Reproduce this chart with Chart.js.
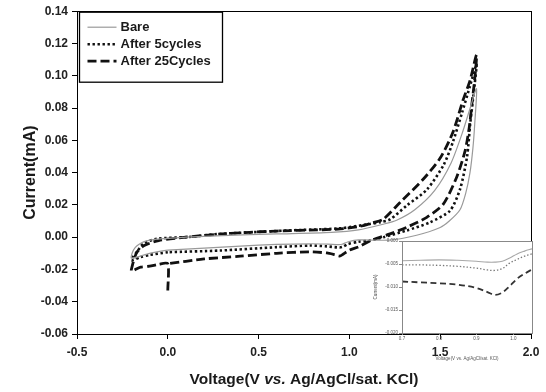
<!DOCTYPE html>
<html><head><meta charset="utf-8">
<script src="https://cdn.jsdelivr.net/npm/chart.js@4.4.1/dist/chart.umd.min.js"></script>
<style>
html,body{margin:0;padding:0;background:#fff;}
#wrap{position:relative;width:546px;height:392px;overflow:hidden;}
#main{position:absolute;left:0;top:0;}
#inset{position:absolute;left:364px;top:236px;}
</style></head><body>
<div id="wrap"><canvas id="main" width="546" height="392"></canvas><canvas id="inset" width="172" height="128"></canvas></div>
<script>
// ---------- data ----------
const seriesNames = ['Bare', 'After 5cycles', 'After 25Cycles'];
const xTitleParts = ['Voltage(V ', 'vs.', ' Ag/AgCl/sat. KCl)'];   // middle part in italics
const xTitle = xTitleParts.join('');
const yTitle = 'Current(mA)';

const bareV = [0.0, -0.1, -0.2, -0.195, -0.18, -0.16, -0.13, -0.08, 0.0, 0.1, 0.3, 0.6, 0.9, 1.05, 1.185, 1.26, 1.36, 1.47, 1.56, 1.62, 1.665, 1.7,
  1.69, 1.68, 1.664, 1.64, 1.609, 1.55, 1.5, 1.37, 1.22, 1.05, 0.99, 0.96, 0.94, 0.88, 0.78, 0.6, 0.4, 0.2, 0.0];
const bareI = [-0.008, -0.010, -0.013, -0.0095, -0.0065, -0.0045, -0.0028, -0.0015, -0.0008, 0.0, 0.001, 0.002, 0.003, 0.0045, 0.008, 0.0105, 0.017, 0.029, 0.046, 0.064, 0.080, 0.092,
  0.070, 0.055, 0.040, 0.027, 0.017, 0.010, 0.006, 0.0012, -0.0018, -0.0017, -0.003, -0.0044, -0.0046, -0.0043, -0.0041, -0.0045, -0.0055, -0.0068, -0.008];

const cyc5V = [0.0, -0.1, -0.15, -0.2, -0.19, -0.171, -0.135, -0.061, 0.104, 0.287, 0.655, 0.95, 1.113, 1.168, 1.224, 1.317, 1.427, 1.52, 1.57, 1.62, 1.665, 1.7,
  1.69, 1.68, 1.665, 1.648, 1.61, 1.554, 1.444, 1.315, 1.188, 1.113, 1.05, 0.99, 0.965, 0.946, 0.876, 0.784, 0.6, 0.287, 0.0];
const cyc5I = [-0.0093, -0.011, -0.0124, -0.0144, -0.012, -0.0093, -0.0041, -0.001, 0.0, 0.002, 0.0041, 0.0055, 0.0082, 0.0092, 0.011, 0.0197, 0.0295, 0.045, 0.059, 0.077, 0.094, 0.107,
  0.095, 0.085, 0.070, 0.050, 0.030, 0.0164, 0.0092, 0.0041, 0.0, -0.0021, -0.0028, -0.0044, -0.0059, -0.0064, -0.0057, -0.0052, -0.0062, -0.0083, -0.0093];

const cyc25V = [0.0, 0.0, -0.05, -0.1, -0.15, -0.2, -0.195, -0.185, -0.17, -0.13, -0.05, 0.1, 0.3, 0.6, 0.85, 0.95, 1.05, 1.13, 1.185, 1.279, 1.405, 1.5, 1.57, 1.626, 1.664, 1.7,
  1.69, 1.675, 1.66, 1.636, 1.59, 1.517, 1.426, 1.315, 1.224, 1.13, 1.05, 1.0, 0.965, 0.946, 0.92, 0.876, 0.78, 0.6, 0.4, 0.2, 0.0];
const cyc25I = [-0.033, -0.0165, -0.0168, -0.018, -0.0186, -0.021, -0.0175, -0.0135, -0.0093, -0.0052, -0.0021, 0.0, 0.002, 0.0038, 0.0046, 0.0051, 0.0065, 0.0089, 0.011, 0.0215, 0.0357, 0.049, 0.065, 0.085, 0.097, 0.113,
  0.098, 0.083, 0.068, 0.053, 0.037, 0.0205, 0.0123, 0.0061, 0.002, -0.0015, -0.006, -0.008, -0.0106, -0.0117, -0.0109, -0.0098, -0.0091, -0.0100, -0.0118, -0.0135, -0.0165];

// inset (zoom of the return scan)
const insetV = [0.70, 0.75, 0.80, 0.85, 0.90, 0.93, 0.95, 0.97, 0.99, 1.01, 1.03, 1.05];
const insetBare = [-0.0043, -0.0042, -0.0041, -0.0042, -0.0044, -0.0046, -0.0046, -0.0044, -0.0037, -0.0028, -0.0022, -0.0017];
const insetCyc5 = [-0.0052, -0.0052, -0.0053, -0.0055, -0.0059, -0.0063, -0.0064, -0.0060, -0.0048, -0.0040, -0.0033, -0.0028];
const insetCyc25 = [-0.0088, -0.0090, -0.0092, -0.0095, -0.0102, -0.0111, -0.0117, -0.0112, -0.0098, -0.0082, -0.0071, -0.0062];

// ---------- helpers ----------
const pts = (xs, ys) => xs.map((x, i) => ({x: x, y: ys[i]}));
const FONT = 'Liberation Sans, Arial, sans-serif';
const styles = [
  {color: '#9a9a9a', width: 1.2, dash: []},
  {color: '#111', width: 2.6, dash: [2.4, 2.6]},
  {color: '#111', width: 2.8, dash: [9, 4]}
];
const mainData = [pts(bareV, bareI), pts(cyc5V, cyc5I), pts(cyc25V, cyc25I)];

const framePlugin = {
  id: 'frame',
  afterDraw(chart) {
    const {ctx, chartArea: a} = chart;
    ctx.save();
    ctx.strokeStyle = '#000';
    ctx.lineWidth = 1;
    ctx.strokeRect(Math.round(a.left) + 0.5, Math.round(a.top) + 0.5, Math.round(a.right - a.left), Math.round(a.bottom - a.top));
    // boxed legend
    const bx = a.left + 2.5, by = a.top + 1, bw = 143, bh = 70;
    ctx.lineWidth = 1.3;
    ctx.strokeRect(bx, by, bw, bh);
    ctx.font = 'bold 13px ' + FONT;
    ctx.fillStyle = '#1a1a1a';
    ctx.textBaseline = 'middle';
    seriesNames.forEach((name, i) => {
      const y = by + 15 + i * 17;
      const s = styles[i];
      ctx.beginPath();
      ctx.strokeStyle = s.color;
      ctx.lineWidth = s.width;
      ctx.setLineDash(s.dash);
      ctx.moveTo(bx + 8, y);
      ctx.lineTo(bx + 37, y);
      ctx.stroke();
      ctx.setLineDash([]);
      ctx.fillText(name, bx + 41, y + 0.5);
    });
    // x-axis title with italic "vs."
    const fonts = ['bold 15.5px ' + FONT, 'bold italic 15.5px ' + FONT, 'bold 15.5px ' + FONT];
    let total = 0;
    const widths = xTitleParts.map((t, i) => { ctx.font = fonts[i]; const w = ctx.measureText(t).width; total += w; return w; });
    let x = (a.left + a.right) / 2 - total / 2;
    const ty = chart.height - 12;
    ctx.textAlign = 'left';
    ctx.textBaseline = 'middle';
    xTitleParts.forEach((t, i) => { ctx.font = fonts[i]; ctx.fillText(t, x, ty); x += widths[i]; });
    ctx.restore();
  }
};

new Chart(document.getElementById('main'), {
  type: 'scatter',
  data: {
    datasets: mainData.map((d, i) => ({
      label: seriesNames[i], data: d, showLine: true, pointRadius: 0, fill: false,
      borderColor: styles[i].color, borderWidth: styles[i].width, borderDash: styles[i].dash,
      tension: 0.25
    }))
  },
  options: {
    responsive: false, animation: false,
    layout: {padding: {top: 9, right: 15, left: 0, bottom: 0}},
    plugins: {legend: {display: false}, tooltip: {enabled: false}},
    scales: {
      x: {
        type: 'linear', min: -0.5, max: 2.0,
        ticks: {stepSize: 0.5, callback: v => v.toFixed(1), font: {family: FONT, weight: 'bold', size: 12}, color: '#222', padding: 6, maxRotation: 0},
        grid: {drawOnChartArea: false, tickLength: 5, color: '#000'},
        border: {color: '#000', width: 1},
        title: {display: false, text: xTitle},
        afterFit: s => { s.height = 58; }
      },
      y: {
        type: 'linear', min: -0.06, max: 0.14,
        ticks: {stepSize: 0.02, callback: v => v.toFixed(2), font: {family: FONT, weight: 'bold', size: 12}, color: '#222', padding: 4},
        grid: {drawOnChartArea: false, tickLength: 5, color: '#000'},
        border: {color: '#000', width: 1},
        title: {display: true, text: yTitle, font: {family: FONT, weight: 'bold', size: 16}, color: '#1a1a1a', padding: {top: 21, bottom: 0}},
        afterFit: s => { s.width = 77; }
      }
    }
  },
  plugins: [framePlugin]
});

// ---------- inset ----------
const insetStyles = [
  {color: '#a8a8a8', width: 1.1, dash: []},
  {color: '#777', width: 1.3, dash: [1.4, 2]},
  {color: '#333', width: 1.8, dash: [6, 3.5]}
];
const insetData = [pts(insetV, insetBare), pts(insetV, insetCyc5), pts(insetV, insetCyc25)];
const insetBg = {
  id: 'insetBg',
  beforeDraw(chart) {
    const {ctx, chartArea: a} = chart;
    ctx.save();
    ctx.fillStyle = '#fff';
    ctx.fillRect(a.left, a.top, a.right - a.left, a.bottom - a.top);
    ctx.restore();
  },
  afterDraw(chart) {
    const {ctx, chartArea: a} = chart;
    ctx.save();
    ctx.strokeStyle = '#888';
    ctx.lineWidth = 1;
    ctx.strokeRect(Math.round(a.left) + 0.5, Math.round(a.top) + 0.5, Math.round(a.right - a.left), Math.round(a.bottom - a.top));
    ctx.restore();
  }
};
const tinyFont = {family: FONT, size: 4.5};
new Chart(document.getElementById('inset'), {
  type: 'scatter',
  data: {
    datasets: insetData.map((d, i) => ({
      label: seriesNames[i], data: d, showLine: true, pointRadius: 0, fill: false,
      borderColor: insetStyles[i].color, borderWidth: insetStyles[i].width, borderDash: insetStyles[i].dash,
      tension: 0.35
    }))
  },
  options: {
    responsive: false, animation: false,
    layout: {padding: {top: 5, right: 4, left: 0, bottom: 0}},
    plugins: {legend: {display: false}, tooltip: {enabled: false}},
    scales: {
      x: {
        type: 'linear', min: 0.7, max: 1.05,
        ticks: {stepSize: 0.1, includeBounds: false, callback: v => v.toFixed(1), font: tinyFont, color: '#555', padding: 1, maxRotation: 0},
        grid: {drawOnChartArea: false, tickLength: 2, color: '#888'},
        border: {color: '#888', width: 1},
        title: {display: true, text: xTitle, font: tinyFont, color: '#555', padding: {top: 0, bottom: 3}},
        afterFit: s => { s.height = 31; }
      },
      y: {
        type: 'linear', min: -0.02, max: 0.0,
        ticks: {stepSize: 0.005, callback: v => v.toFixed(3), font: tinyFont, color: '#555', padding: 1},
        grid: {drawOnChartArea: false, tickLength: 3, color: '#888'},
        border: {color: '#888', width: 1},
        title: {display: true, text: yTitle, font: tinyFont, color: '#555', padding: {top: 9, bottom: 0}},
        afterFit: s => { s.width = 38; }
      }
    }
  },
  plugins: [insetBg]
});
</script>
</body></html>
